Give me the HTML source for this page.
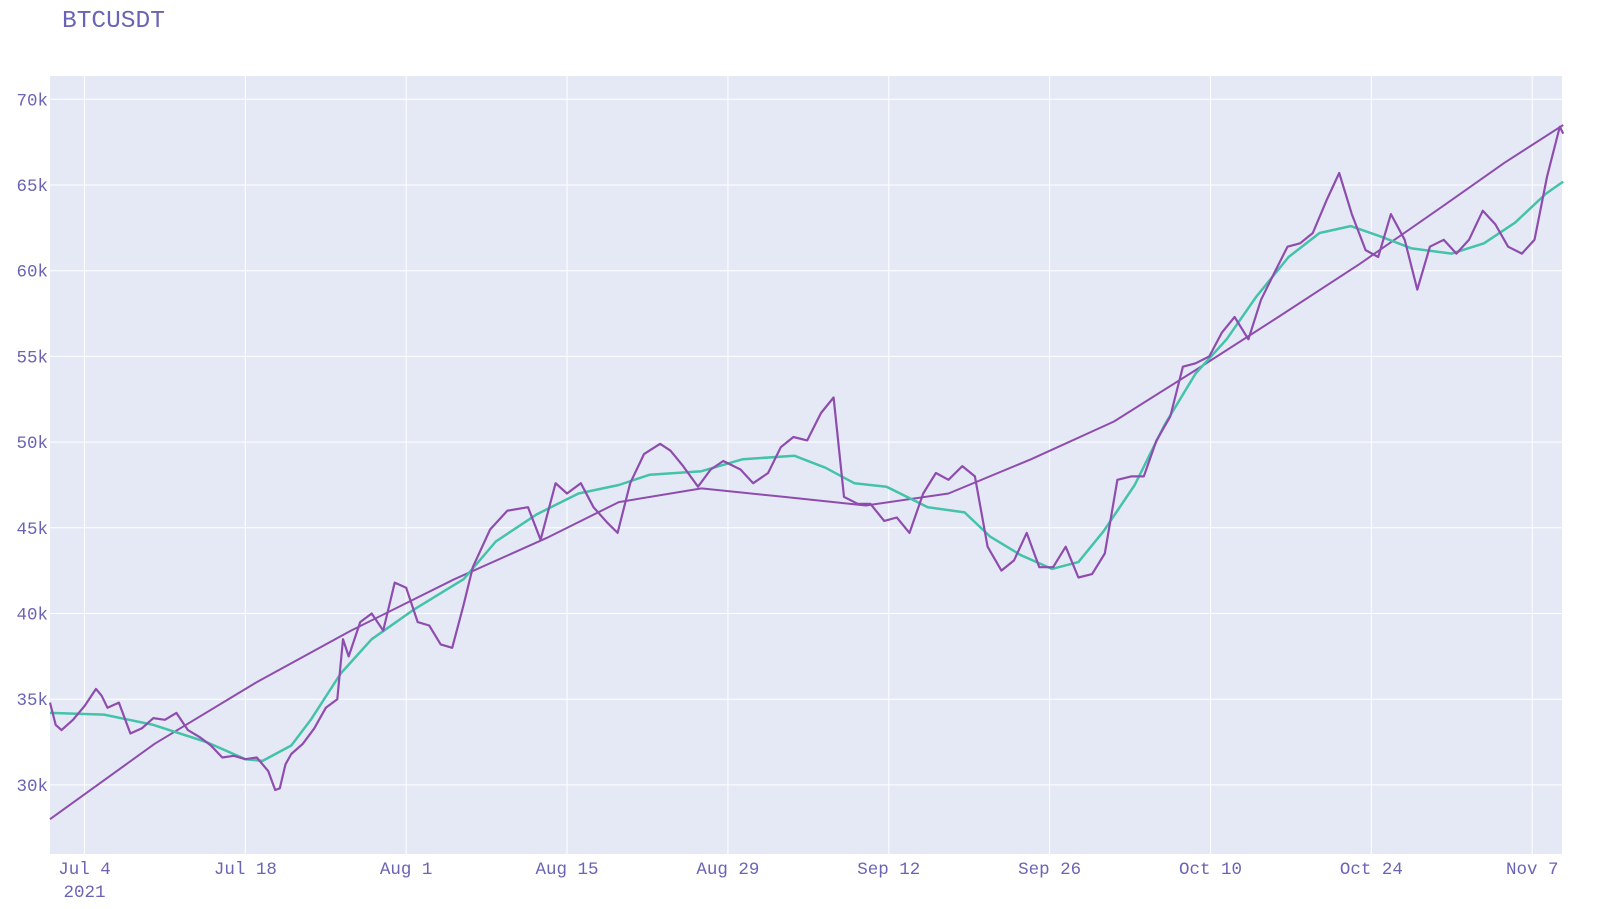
<!DOCTYPE html>
<html><head><meta charset="utf-8"><style>
body{margin:0;background:#fff;}
svg{display:block;font-family:"Liberation Mono",monospace;}
</style></head><body>
<svg id="chart" width="1615" height="909" xmlns="http://www.w3.org/2000/svg">
<text x="62" y="27" font-size="24.5" fill="#6a64b4">BTCUSDT</text>
<rect x="50" y="76" width="1512" height="778" fill="#e5e9f6"/>
<g id="grid"></g>
<g id="series"></g>
<g id="axes"></g>
</svg>
<script>
const priceDays=[0,0.5,1,2,3,4,4.5,5,6,7,8,9,10,11,12,13,14,15,16,17,18,19,19.6,20,20.5,21,22,23,24,25,25.5,26,27,28,29,30,31,32,33,34,35,36,36.8,38.3,39.8,41.6,42.7,44.0,45.0,46.2,47.3,48.5,49.4,50.5,51.7,53.1,54.0,55.1,56.4,57.5,58.6,60.1,61.2,62.5,63.6,64.7,65.9,67.1,68.2,69.1,70.3,71.4,72.6,73.7,74.8,76.0,77.1,78.2,79.4,80.5,81.6,82.8,83.9,85.0,86.1,87.3,88.4,89.5,90.7,91.8,92.9,94.1,95.2,96.3,97.5,98.6,99.7,100.9,102.0,103.1,104.3,105.4,106.5,107.7,108.8,109.9,111.1,112.2,113.3,114.5,115.6,116.7,117.9,119.0,120.1,121.3,122.4,123.5,124.7,125.8,126.9,128.1,129.2,130.3,131.4,131.7];
const priceVals=[34.8,33.5,33.2,33.8,34.6,35.6,35.2,34.5,34.8,33.0,33.3,33.9,33.8,34.2,33.2,32.8,32.3,31.6,31.7,31.5,31.6,30.8,29.7,29.8,31.2,31.8,32.4,33.3,34.5,35.0,38.5,37.5,39.5,40.0,39.0,41.8,41.5,39.5,39.3,38.2,38.0,40.5,42.7,44.9,46.0,46.2,44.3,47.6,47.0,47.6,46.2,45.3,44.7,47.6,49.3,49.9,49.5,48.6,47.4,48.4,48.9,48.4,47.6,48.2,49.7,50.3,50.1,51.7,52.6,46.8,46.4,46.4,45.4,45.6,44.7,47.0,48.2,47.8,48.6,48.0,43.9,42.5,43.1,44.7,42.7,42.7,43.9,42.1,42.3,43.5,47.8,48.0,48.0,50.1,51.5,54.4,54.6,55.0,56.4,57.3,56.0,58.3,59.8,61.4,61.6,62.2,64.1,65.7,63.3,61.2,60.8,63.3,61.8,58.9,61.4,61.8,61.0,61.8,63.5,62.7,61.4,61.0,61.8,65.5,68.4,68.0];
const maDays=[0,4.7,9,13.6,17,18.5,21,22.7,25.3,28,31.6,36,38.8,42.4,46,49.5,52.2,56.7,60.3,64.8,67.5,70,72.8,76.4,79.6,81.8,84.5,87.2,89.5,91.7,94.4,97,99.7,102.4,105,107.8,110.5,113.2,115.8,118.5,122,124.8,127.5,130.2,131.7];
const maVals=[34.2,34.1,33.5,32.5,31.5,31.4,32.3,33.8,36.5,38.5,40.2,42.0,44.2,45.8,47.0,47.5,48.1,48.3,49.0,49.2,48.5,47.6,47.4,46.2,45.9,44.5,43.4,42.6,43.0,44.8,47.5,51.0,54.0,56.0,58.5,60.8,62.2,62.6,62.0,61.3,61.0,61.6,62.8,64.5,65.2];
const trendDays=[0,9.1,18,26.2,35.2,43.2,49.5,56.7,63.9,71,78.2,85.4,92.6,99.7,106.9,114,121.3,126.6,131.7];
const trendVals=[28.0,32.4,36.0,39.0,42.0,44.4,46.5,47.3,46.8,46.3,47.0,49.0,51.2,54.2,57.3,60.4,63.8,66.3,68.5];
const yTicks=[30,35,40,45,50,55,60,65,70];
const xTickDays=[3,17,31,45,59,73,87,101,115,129];
const xTickLabels=["Jul 4","Jul 18","Aug 1","Aug 15","Aug 29","Sep 12","Sep 26","Oct 10","Oct 24","Nov 7"];

const NS="http://www.w3.org/2000/svg";
const X=d=>50+d*11.49;
const Y=v=>99.3+(70-v)*17.14;
function mk(tag,attrs,parent){const e=document.createElementNS(NS,tag);for(const k in attrs)e.setAttribute(k,attrs[k]);parent.appendChild(e);return e;}
const grid=document.getElementById('grid'),series=document.getElementById('series'),axes=document.getElementById('axes');
yTicks.forEach(v=>{
  const l=mk('line',{x1:50,x2:1562,y1:Y(v),y2:Y(v),stroke:'#fff','stroke-width':1},grid);
  
  
  const t=mk('text',{x:48,y:Y(v)+6,'text-anchor':'end','font-size':17.5,fill:'#6a64b4'},axes);
  t.textContent=v+'k';
  
  
});
xTickDays.forEach((d,i)=>{
  const l=mk('line',{x1:X(d),x2:X(d),y1:76,y2:854,stroke:'#fff','stroke-width':1},grid);
  
  
  const t=mk('text',{x:X(d),y:874,'text-anchor':'middle','font-size':17.5,fill:'#6a64b4'},axes);
  t.textContent=xTickLabels[i];
  
  
});
const yr=mk('text',{x:X(3),y:897,'text-anchor':'middle','font-size':17.5,fill:'#6a64b4'},axes);
yr.textContent='2021';


function line(days,vals,color,w,name){
  const d=days.map((dd,i)=>(i?'L':'M')+X(dd).toFixed(1)+','+Y(vals[i]).toFixed(1)).join('');
  const p=mk('path',{d:d,fill:'none',stroke:color,'stroke-width':w,'stroke-linejoin':'round'},series);
  
  
}
line(trendDays,trendVals,'#8e4dae',2,'long-trend-line');
line(maDays,maVals,'#45c2aa',2.5,'moving-average-line');
line(priceDays,priceVals,'#8e4dae',2.2,'price-line');
</script>
</body></html>
